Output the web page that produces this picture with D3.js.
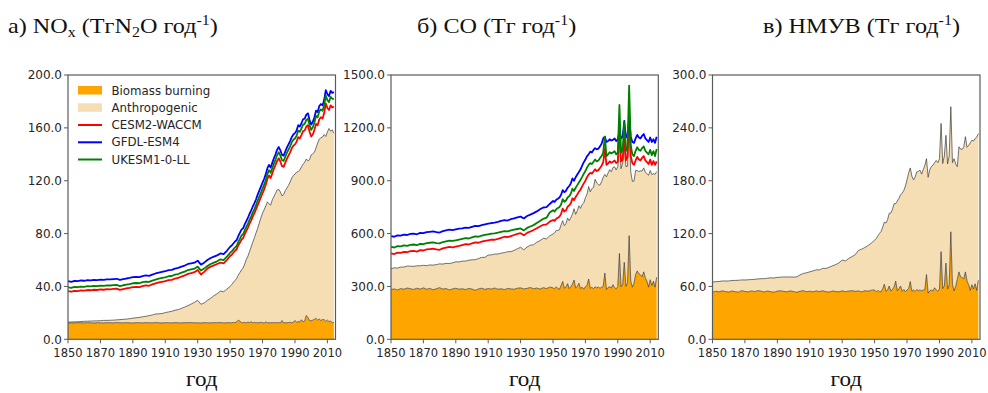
<!DOCTYPE html>
<html><head><meta charset="utf-8">
<script src="https://cdn.jsdelivr.net/npm/d3@7"></script>
<style>body{margin:0;background:#fff}</style></head>
<body><svg id="c" width="988" height="393"></svg>
<script>
// Years: 1850–1948 every 2 years, then annual 1950–2014
const years = d3.range(1850, 1950, 2).concat(d3.range(1950, 2015));
const xTicks = [1850,1870,1890,1910,1930,1950,1970,1990,2010];
const legendLabels = ["Biomass burning","Anthropogenic","CESM2-WACCM","GFDL-ESM4","UKESM1-0-LL"];
const xLabel = "год";

// ---------- a) NOx ----------
const noxBiomass = [
12.3,12.5,12.4,12.6,12.5,12.4,12.6,12.5,12.3,12.6,
12.5,12.4,12.6,12.5,12.4,12.7,12.5,12.4,12.6,12.5,
12.3,12.6,12.5,12.4,12.6,12.5,12.4,12.7,12.5,12.3,
12.6,12.5,12.4,12.6,12.5,12.4,12.6,12.5,12.7,12.4,
12.5,12.3,12.6,12.5,12.4,12.6,12.5,12.7,12.4,12.5,
12.6,12.4,12.8,12.5,13.2,14.5,13.8,12.7,12.5,12.9,
12.4,13.0,12.6,13.3,12.5,12.8,12.4,12.7,12.5,12.9,
12.6,12.4,13.1,12.5,12.6,12.4,12.7,12.5,12.6,12.5,
12.7,12.4,14.2,12.3,12.6,12.5,12.7,12.9,12.5,13.0,
14.3,12.8,13.5,13.0,14.8,13.2,14.0,18.0,16.5,14.2,
14.0,14.5,15.2,15.8,14.6,15.3,14.2,15.0,14.8,13.6,
14.5,13.4,13.8,12.6,12.8];
const noxAnthro = [
0.7,0.6,0.8,0.7,0.9,1.2,1.1,1.3,1.6,1.4,
1.6,1.9,1.7,1.9,2.1,2.0,2.4,2.7,2.7,3.1,
3.7,3.7,4.1,4.6,4.8,5.4,6.0,6.4,6.8,7.2,
7.6,8.2,8.8,9.4,10.0,11.0,11.8,13.0,14.0,15.6,
17.0,14.2,14.9,17.0,18.6,20.4,22.0,23.8,23.6,25.5,
27.4,29.1,30.2,32.0,32.8,34.0,36.7,39.8,41.5,44.1,
48.1,50.0,53.9,56.7,61.0,64.2,68.1,71.3,75.5,79.1,
82.9,85.6,87.9,91.5,89.9,89.1,92.8,95.5,97.9,100.5,
100.8,99.1,94.3,97.2,99.9,102.0,103.8,106.1,109.5,111.0,
110.7,113.7,113.5,115.0,115.7,119.3,120.0,118.5,118.5,121.8,
125.5,126.0,126.3,129.2,133.9,136.2,138.3,138.0,140.2,139.9,
142.5,146.1,143.7,145.9,143.2];
const noxCESM = [
36.5,36.0,36.7,36.5,37.0,36.8,37.3,37.1,37.5,37.3,
37.7,37.5,37.9,37.8,38.1,38.3,37.4,38.0,38.5,38.9,
39.5,39.7,39.5,40.3,40.8,40.5,41.5,42.3,43.0,43.5,
44.0,44.8,45.0,46.0,46.5,47.5,48.3,49.5,50.0,50.8,
52.5,49.0,51.0,53.5,55.0,56.0,57.0,58.0,57.5,60.0,
63.0,64.0,65.5,67.0,68.0,71.0,73.0,75.5,76.5,79.5,
82.0,84.5,87.5,90.0,93.0,95.5,98.5,101.5,104.5,107.5,
110.5,113.5,117.0,121.5,124.0,122.0,125.5,129.0,132.0,135.0,
137.0,134.5,131.0,130.5,133.5,136.5,139.0,141.5,144.5,146.5,
147.5,149.5,153.0,152.0,154.5,157.5,158.0,161.0,162.0,157.0,
153.5,155.0,158.5,163.0,162.0,166.5,168.0,167.0,171.0,178.5,
175.0,173.5,177.0,175.5,176.0];
const noxGFDL = [
44.0,43.5,44.2,44.0,44.5,44.3,44.8,44.6,45.0,44.8,
45.2,45.0,45.4,45.3,45.6,45.8,44.9,45.5,46.0,46.4,
47.0,47.2,47.0,47.8,48.3,48.0,49.0,49.8,50.5,51.0,
51.5,52.3,52.5,53.5,54.0,55.0,55.8,57.0,57.5,58.0,
59.5,56.5,58.0,60.0,61.5,62.5,63.5,65.0,64.5,67.0,
70.0,71.0,72.5,74.0,75.0,78.0,80.5,83.0,84.0,87.0,
89.5,92.0,95.0,97.5,100.5,103.0,106.0,109.5,112.5,115.5,
118.5,121.5,125.0,129.5,132.0,130.0,133.5,137.0,140.0,143.5,
145.5,143.0,139.5,139.0,142.0,145.0,147.5,150.0,153.0,155.0,
156.0,158.0,162.0,161.0,163.5,166.5,167.0,170.0,171.0,166.0,
162.5,164.5,168.0,173.0,172.0,176.5,178.0,177.0,181.0,188.5,
185.5,184.0,188.0,186.5,187.0];
const noxUKESM = [
39.3,38.9,39.6,39.4,39.9,39.7,40.2,40.0,40.4,40.2,
40.6,40.4,40.8,40.7,41.0,41.2,40.3,40.9,41.4,41.8,
42.4,42.6,42.4,43.2,43.7,43.4,44.4,45.2,45.9,46.4,
46.9,47.7,47.9,48.9,49.4,50.4,51.2,52.4,52.9,53.4,
55.0,52.0,53.5,55.5,57.0,58.0,59.0,60.5,60.0,62.5,
65.5,66.5,68.0,69.5,70.5,73.5,76.0,78.5,79.5,82.5,
85.0,87.5,90.5,93.0,96.0,98.5,101.5,105.0,108.0,111.0,
114.0,117.0,120.5,125.0,128.0,126.0,129.5,133.0,136.0,139.5,
141.5,139.0,135.5,135.0,138.0,141.0,143.5,146.0,149.0,151.0,
152.0,154.0,158.0,157.0,159.5,162.5,163.0,166.0,167.0,162.0,
158.5,160.5,164.0,169.0,168.0,172.5,174.0,173.0,177.0,184.5,
181.0,179.5,183.5,182.0,182.0];

// ---------- б) CO ----------
const coBiomass = [
282,286,280,288,284,291,287,283,290,285,
292,284,289,281,287,293,285,288,280,286,
290,284,287,282,289,285,278,286,290,283,
288,285,291,284,287,282,289,286,284,290,
292,286,289,294,287,291,285,293,288,296,
292,286,298,288,284,305,328,290,296,316,
288,298,312,336,291,300,318,288,296,284,
299,306,342,289,295,287,298,292,296,290,
295,300,376,282,294,298,291,310,294,286,
300,487,298,312,437,300,322,588,330,296,
318,368,388,372,366,355,383,348,330,296,
338,305,330,296,352];
const coAnthro = [
118,120,124,122,126,125,128,131,127,132,
128,134,133,140,137,135,142,143,150,148,
150,155,157,162,160,166,174,172,175,182,
190,194,193,200,202,210,208,212,220,224,
230,222,235,240,250,260,275,280,282,292,
305,318,320,330,338,345,345,355,360,372,
385,392,398,405,418,430,440,455,470,490,
505,518,525,548,560,575,610,595,582,585,
600,620,560,640,650,665,660,665,685,675,
680,650,670,690,665,680,660,640,620,600,
580,590,570,580,590,600,590,600,610,635,
620,630,610,640,600];
const coCESM = [
488,484,492,490,496,494,500,502,498,506,
504,510,512,514,510,508,516,520,524,522,
526,530,535,540,538,544,550,548,554,558,
562,566,565,570,576,582,580,586,592,598,
602,590,604,612,620,630,640,650,652,668,
677,672,684,690,696,712,742,725,732,752,
760,772,800,790,808,822,838,850,868,885,
900,920,935,945,940,952,965,955,960,972,
985,1005,1080,990,998,1010,1002,1008,1015,1000,
1008,1200,1010,1020,1150,1015,1035,1260,1040,1000,
990,1015,1035,1020,1015,1030,1040,1015,1005,995,
1020,990,1012,990,1010];
const coGFDL = [
586,582,590,588,594,592,598,600,596,604,
602,608,610,612,608,606,614,618,622,620,
624,628,629,634,632,638,644,642,648,652,
656,660,662,666,672,676,674,682,686,692,
696,686,700,708,716,726,738,748,750,768,
785,780,792,798,805,820,847,835,842,860,
870,885,913,900,920,935,950,965,985,1005,
1020,1040,1050,1065,1060,1075,1085,1078,1082,1095,
1110,1140,1150,1120,1125,1135,1128,1132,1140,1125,
1135,1180,1140,1150,1240,1145,1160,1260,1150,1120,
1115,1140,1160,1145,1140,1155,1165,1140,1130,1120,
1145,1120,1135,1115,1150];
const coUKESM = [
525,521,529,527,533,530,536,538,534,542,
540,546,548,550,546,544,552,556,560,558,
562,566,570,574,572,578,584,582,588,592,
596,600,601,605,610,614,612,618,622,626,
629,618,632,640,648,660,672,684,690,720,
733,725,738,745,750,765,795,780,788,805,
812,826,855,842,860,875,890,905,922,940,
955,975,990,1000,995,1008,1020,1010,1015,1028,
1040,1060,1150,1040,1050,1062,1055,1060,1068,1050,
1060,1330,1060,1075,1230,1070,1090,1440,1100,1050,
1040,1070,1090,1075,1070,1085,1095,1070,1060,1050,
1075,1045,1068,1040,1080];

// ---------- в) НМУВ ----------
const nmvocBiomass = [
53.5,54.5,53.8,55.0,54.2,53.6,54.8,54.0,53.5,55.2,
54.3,53.8,54.9,54.1,55.3,54.6,53.7,54.8,54.0,53.4,
54.7,55.1,54.3,53.9,55.0,54.2,53.3,54.5,55.2,54.0,
54.6,53.8,54.9,54.2,55.1,54.0,53.6,54.8,54.3,53.9,
55.0,54.1,54.7,55.3,54.4,54.9,53.8,55.2,54.5,55.8,
56.0,53.8,55.5,54.2,53.9,57.5,62.5,54.5,55.8,60.5,
54.8,56.5,59.5,66.0,55.0,57.5,60.5,54.5,56.5,54.0,
56.0,57.5,65.5,54.5,56.0,54.2,56.5,55.2,56.0,55.0,
55.8,56.5,73.5,52.5,55.0,56.0,54.8,58.5,56.0,54.5,
57.0,99.5,57.5,60.5,86.5,57.0,61.5,122.0,62.5,55.0,
60.0,68.0,76.5,71.0,70.0,68.5,76.5,66.0,62.0,55.5,
62.0,57.0,63.0,55.5,67.0];
const nmvocAnthro = [
11.5,11.0,11.8,11.2,12.0,12.6,12.0,12.8,13.5,12.2,
13.0,13.8,12.9,14.0,13.2,14.2,15.1,14.6,15.8,16.2,
15.6,15.4,16.5,16.8,15.8,16.4,17.6,18.6,19.5,21.5,
22.0,23.8,24.0,24.6,25.4,26.5,28.2,28.6,30.5,32.8,
35.0,34.8,37.0,38.5,41.5,46.0,48.5,49.0,52.0,53.5,
56.5,60.5,62.0,66.0,68.5,70.0,70.5,77.5,80.0,82.5,
88.5,91.0,94.5,88.0,102.0,102.5,103.5,111.5,112.5,120.0,
125.0,131.5,129.0,130.5,125.0,130.0,133.5,135.5,136.0,132.5,
137.0,141.0,131.5,131.5,137.5,140.0,143.0,142.0,147.0,146.0,
148.0,145.5,142.0,147.5,145.0,142.0,146.5,142.0,138.0,150.0,
139.0,128.0,142.0,145.0,145.5,150.0,153.5,152.0,158.0,167.5,
164.0,168.0,165.0,174.0,166.5];

const panels = [
  {x0:68, x1:335.5, yMax:200, bb:noxBiomass, an:noxAnthro, models:[noxCESM,noxGFDL,noxUKESM],
   title:[{t:"а) NO"},{t:"x",sub:1},{t:" (ТгN"},{t:"2",sub:1},{t:"O год"},{t:"-1",sup:1},{t:")"}], titleX:8, legend:true},
  {x0:391, x1:658.3, yMax:1500, bb:coBiomass, an:coAnthro, models:[coCESM,coGFDL,coUKESM],
   title:[{t:"б) CO (Тг год"},{t:"-1",sup:1},{t:")"}], titleX:417},
  {x0:712.5, x1:980, yMax:300, bb:nmvocBiomass, an:nmvocAnthro, models:[],
   title:[{t:"в) НМУВ (Тг год"},{t:"-1",sup:1},{t:")"}], titleX:763}
];

const colors = {bb:"#FFA500", an:"#F5DEB3", models:["#FF0000","#0000FF","#008000"]};
const TOP = 75, BOT = 339.3;
const svg = d3.select("#c");
const serif = "'Liberation Serif','Times New Roman',serif";
const sans = "'DejaVu Sans',sans-serif";

panels.forEach((p, pi) => {
  const x = d3.scaleLinear().domain([1850, 2015]).range([p.x0, p.x1]);
  const y = d3.scaleLinear().domain([0, p.yMax]).range([BOT, TOP]);
  const g = svg.append("g");
  const clipId = "clip" + pi;
  svg.append("clipPath").attr("id", clipId).append("rect")
    .attr("x", p.x0).attr("y", TOP).attr("width", p.x1 - p.x0).attr("height", BOT - TOP);
  const plot = g.append("g").attr("clip-path", `url(#${clipId})`);

  const rows = years.map((yr, i) => ({year: yr, bb: p.bb[i], an: p.an[i]}));
  const stack = d3.stack().keys(["bb", "an"])(rows);
  const area = d3.area().x(d => x(d.data.year)).y0(d => y(d[0])).y1(d => y(d[1]));
  const topLine = d3.line().x(d => x(d.data.year)).y(d => y(d[1]));
  stack.forEach((s, si) => {
    plot.append("path").attr("d", area(s)).attr("fill", si === 0 ? colors.bb : colors.an);
  });
  stack.forEach(s => {
    plot.append("path").attr("d", topLine(s)).attr("fill", "none")
      .attr("stroke", "#3a3a3a").attr("stroke-width", 0.7);
  });
  const line = d3.line().x((d, i) => x(years[i])).y(d => y(d));
  p.models.forEach((m, mi) => {
    plot.append("path").attr("d", line(m)).attr("fill", "none")
      .attr("stroke", colors.models[mi]).attr("stroke-width", 1.8).attr("stroke-linejoin", "round");
  });

  // frame
  g.append("rect").attr("x", p.x0).attr("y", TOP).attr("width", p.x1 - p.x0).attr("height", BOT - TOP)
    .attr("fill", "none").attr("stroke", "#5a5a5a").attr("stroke-width", 1.2);

  // y axis
  const yTicks = d3.range(0, p.yMax + 1e-9, p.yMax / 5);
  const fmt = d3.format(".1f");
  yTicks.forEach(v => {
    g.append("line").attr("x1", p.x0 - 4).attr("x2", p.x0).attr("y1", y(v)).attr("y2", y(v))
      .attr("stroke", "#5a5a5a").attr("stroke-width", 1);
    g.append("text").attr("x", p.x0 - 6).attr("y", y(v)).attr("dy", "0.35em")
      .attr("text-anchor", "end").attr("font-family", sans).attr("font-size", 12)
      .attr("fill", "#262626").text(fmt(v));
  });
  // x axis
  xTicks.forEach(v => {
    g.append("line").attr("x1", x(v)).attr("x2", x(v)).attr("y1", BOT).attr("y2", BOT + 4)
      .attr("stroke", "#5a5a5a").attr("stroke-width", 1);
    g.append("text").attr("x", x(v)).attr("y", BOT + 17.5)
      .attr("text-anchor", "middle").attr("font-family", sans).attr("font-size", 11.5)
      .attr("fill", "#262626").text(v);
  });
  // x label
  g.append("text")
    .attr("transform", `translate(${(p.x0 + p.x1) / 2},386) scale(1.1,1)`)
    .attr("text-anchor", "middle").attr("font-family", serif).attr("font-size", 21)
    .attr("fill", "#111").text(xLabel);

  // title
  const tt = svg.append("text").attr("transform", `translate(${p.titleX},33) scale(1.1,1)`)
    .attr("font-family", serif).attr("font-size", 22).attr("fill", "#111");
  let shift = 0;
  p.title.forEach(part => {
    const target = part.sub ? 4 : part.sup ? -8 : 0;
    tt.append("tspan").attr("dy", target - shift)
      .attr("font-size", (part.sub || part.sup) ? 14.5 : 22).text(part.t);
    shift = target;
  });

  // legend
  if (p.legend) {
    const lg = svg.append("g");
    const rowsY = [90.5, 107.8, 125, 142.3, 159.5];
    legendLabels.forEach((lab, i) => {
      const cy = rowsY[i];
      if (i === 0 || i === 1) {
        lg.append("rect").attr("x", 78).attr("y", cy - 4.5).attr("width", 24).attr("height", 8.5)
          .attr("fill", i === 0 ? colors.bb : colors.an);
      } else {
        lg.append("line").attr("x1", 78).attr("x2", 102).attr("y1", cy).attr("y2", cy)
          .attr("stroke", colors.models[i - 2]).attr("stroke-width", 2);
      }
      lg.append("text").attr("x", 111.5).attr("y", cy).attr("dy", "0.35em")
        .attr("font-family", sans).attr("font-size", 11.8).attr("fill", "#262626").text(lab);
    });
  }
});
</script>
</body></html>
